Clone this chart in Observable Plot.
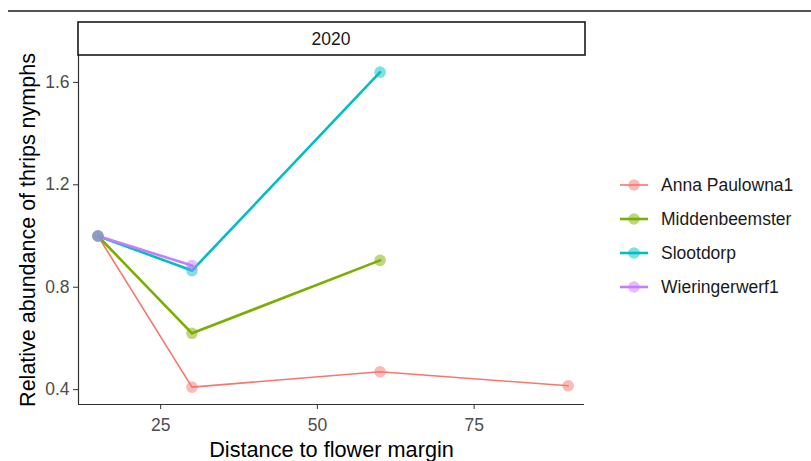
<!DOCTYPE html>
<html>
<head>
<meta charset="utf-8">
<script src="https://cdn.jsdelivr.net/npm/d3@7"></script>
<script src="https://cdn.jsdelivr.net/npm/@observablehq/plot@0.6"></script>
<style>
  html, body { margin: 0; padding: 0; background: #fff; }
  svg { font-family: "Liberation Sans", Arial, sans-serif; }
</style>
</head>
<body>
<div id="chart"></div>
<script>
// ---- data ----
const seriesNames = ["Anna Paulowna1", "Middenbeemster", "Slootdorp", "Wieringerwerf1"];
const seriesColors = ["#F8766D", "#7CAE00", "#00BFC4", "#C77CFF"];
const annaX = [15, 30, 60, 90];
const annaY = [1.0, 0.41, 0.47, 0.415];
const middenX = [15, 30, 60];
const middenY = [1.0, 0.62, 0.905];
const slootX = [15, 30, 60];
const slootY = [1.0, 0.865, 1.64];
const wieringX = [15, 30];
const wieringY = [1.0, 0.885];
const xTicks = [25, 50, 75];
const yTicks = [0.4, 0.8, 1.2, 1.6];
const xDomain = [11.9, 92.6];
const yDomain = [0.342, 1.705];
const facetLabel = "2020";
const xTitle = "Distance to flower margin";
const yTitle = "Relative abundance of thrips nymphs";

const seriesXs = [annaX, middenX, slootX, wieringX];
const seriesYs = [annaY, middenY, slootY, wieringY];
const rows = [];
seriesNames.forEach((name, i) => {
  seriesXs[i].forEach((x, j) => rows.push({series: name, x, y: seriesYs[i][j]}));
});

const W = 811, H = 461;
const plot = Plot.plot({
  width: W,
  height: H,
  marginLeft: 78,
  marginRight: 227,
  marginTop: 55,
  marginBottom: 57,
  style: {fontFamily: '"Liberation Sans", Arial, sans-serif', background: "#fff"},
  x: {domain: xDomain},
  y: {domain: yDomain},
  color: {domain: seriesNames, range: seriesColors},
  marks: [
    Plot.axisX({ticks: xTicks, tickSize: 5, tickPadding: 9, fontSize: 17.5, stroke: "#333333", fill: "#4D4D4D", label: null}),
    Plot.axisY({ticks: yTicks, tickSize: 5, tickPadding: 4, fontSize: 17.5, stroke: "#333333", fill: "#4D4D4D", label: null, tickFormat: d3.format(".1f")}),
    Plot.ruleY([yDomain[0]], {stroke: "#333333", strokeWidth: 1.2}),
    Plot.ruleX([xDomain[0]], {stroke: "#333333", strokeWidth: 1.2}),
    Plot.line(rows.filter(d => d.series === seriesNames[0]), {x: "x", y: "y", z: "series", stroke: "series", strokeWidth: 1.6}),
    Plot.line(rows.filter(d => d.series !== seriesNames[0]), {x: "x", y: "y", z: "series", stroke: "series", strokeWidth: 2.6}),
    Plot.dot(rows, {x: "x", y: "y", fill: "series", fillOpacity: 0.5, r: 5.8, stroke: null}),
    Plot.text([xTitle], {frameAnchor: "bottom", lineAnchor: "bottom", textAnchor: "middle", dy: 52, fontSize: 21.7, fill: "#000"}),
    Plot.text([yTitle], {frameAnchor: "left", textAnchor: "middle", lineAnchor: "middle", rotate: -90, dx: -50, fontSize: 21.5, fill: "#000"})
  ]
});

const svg = d3.select(plot);
const xr = plot.scale("x").range;
const color = plot.scale("color");

// top separator line
svg.append("line")
  .attr("x1", 8).attr("x2", W).attr("y1", 11).attr("y2", 11)
  .attr("stroke", "#1a1a1a").attr("stroke-width", 1.3);

// facet strip
const stripTop = 22, stripBottom = 55;
svg.append("rect")
  .attr("x", xr[0]).attr("y", stripTop)
  .attr("width", xr[1] - xr[0] + 1).attr("height", stripBottom - stripTop)
  .attr("fill", "#fff").attr("stroke", "#1a1a1a").attr("stroke-width", 1.6);
svg.append("text")
  .attr("x", (xr[0] + xr[1]) / 2).attr("y", (stripTop + stripBottom) / 2)
  .attr("text-anchor", "middle").attr("dominant-baseline", "central")
  .attr("font-size", 17.5).attr("fill", "#1A1A1A")
  .text(facetLabel);

// legend
const lg = svg.append("g").attr("text-anchor", "start");
seriesNames.forEach((name, i) => {
  const cy = 185 + i * 34;
  const c = color.apply(name);
  lg.append("line").attr("x1", 620).attr("x2", 648).attr("y1", cy).attr("y2", cy)
    .attr("stroke", c).attr("stroke-width", i === 0 ? 1.6 : 2.6);
  lg.append("circle").attr("cx", 634).attr("cy", cy).attr("r", 5.8)
    .attr("fill", c).attr("fill-opacity", 0.5);
  lg.append("text").attr("x", 661).attr("y", cy)
    .attr("text-anchor", "start")
    .attr("dominant-baseline", "central").attr("font-size", 17.5).attr("fill", "#1A1A1A")
    .text(name);
});

document.getElementById("chart").appendChild(plot);
</script>
</body>
</html>
